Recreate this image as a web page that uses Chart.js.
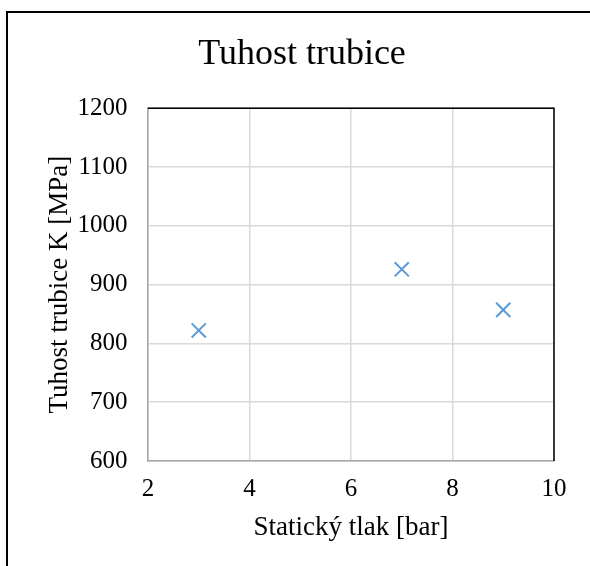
<!DOCTYPE html>
<html>
<head>
<meta charset="utf-8">
<script src="https://cdn.jsdelivr.net/npm/chart.js@4/dist/chart.umd.min.js"></script>
<style>
  body { margin: 0; background: #fff; }
  canvas { display: block; }
</style>
</head>
<body>
<canvas id="chart" width="590" height="566"></canvas>
<script>
// measured points (static pressure vs tube stiffness)
const pressure = [3, 7, 9];
const stiffness = [822, 926, 857];

const chartTitle = 'Tuhost trubice';
const xTitle = 'Statický tlak [bar]';
const yTitle = 'Tuhost trubice K [MPa]';

const serif = '"Liberation Serif", "Times New Roman", serif';

// black frame on top/right of plot area + outer figure border
const frames = {
  id: 'frames',
  beforeDatasetsDraw(chart) {
    const { ctx, chartArea: a } = chart;
    ctx.save();
    ctx.strokeStyle = '#000';
    ctx.lineWidth = 1.5;
    ctx.beginPath();
    ctx.moveTo(a.left, a.top);
    ctx.lineTo(a.right, a.top);
    ctx.lineTo(a.right, a.bottom);
    ctx.stroke();
    ctx.lineWidth = 2;
    ctx.beginPath();
    ctx.moveTo(7, 566);
    ctx.lineTo(7, 12);
    ctx.lineTo(590, 12);
    ctx.stroke();
    ctx.restore();
  }
};

const data = pressure.map((p, i) => ({ x: p, y: stiffness[i] }));

new Chart(document.getElementById('chart'), {
  type: 'scatter',
  data: {
    datasets: [{
      data: data,
      pointStyle: 'crossRot',
      pointRadius: 10,
      pointHoverRadius: 10,
      borderColor: '#5b9bd5',
      backgroundColor: '#5b9bd5',
      borderWidth: 2
    }]
  },
  options: {
    responsive: false,
    animation: false,
    layout: { padding: { left: 50, right: 36, top: 0, bottom: 0 } },
    scales: {
      x: {
        type: 'linear',
        min: 2,
        max: 10,
        ticks: { stepSize: 2, padding: 13, color: '#000', font: { family: serif, size: 25 }, callback: v => String(v) },
        grid: { color: '#d9d9d9', lineWidth: 1.5, drawTicks: false },
        border: { color: '#a6a6a6', width: 1.5 },
        title: { display: true, text: xTitle, color: '#000', font: { family: serif, size: 27 }, padding: { top: 0, bottom: 22 } },
        afterFit(scale) { scale.height = 105; }
      },
      y: {
        min: 600,
        max: 1200,
        ticks: { stepSize: 100, padding: 20.5, color: '#000', font: { family: serif, size: 25 }, callback: v => String(v) },
        grid: { color: '#d9d9d9', lineWidth: 1.5, drawTicks: false },
        border: { color: '#a6a6a6', width: 1.5 },
        title: { display: true, text: yTitle, color: '#000', font: { family: serif, size: 27 }, padding: { top: -6, bottom: 0 } },
        afterFit(scale) { scale.width = 98; }
      }
    },
    plugins: {
      legend: { display: false },
      tooltip: { enabled: false },
      title: {
        display: true,
        text: chartTitle,
        color: '#000',
        font: { family: serif, size: 36, weight: 'normal', lineHeight: 1.2 },
        padding: { top: 33, bottom: 32 }
      }
    }
  },
  plugins: [frames]
});
</script>
</body>
</html>
